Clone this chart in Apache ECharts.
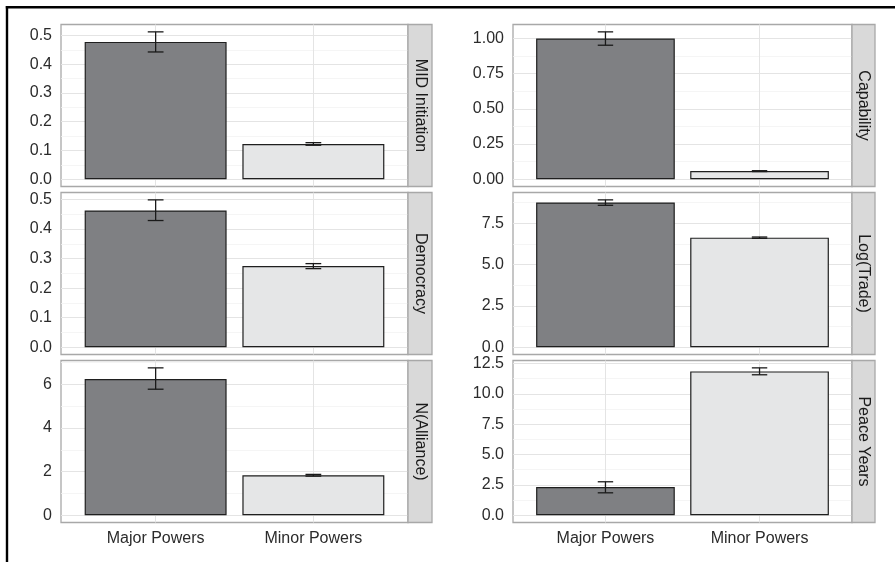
<!DOCTYPE html>
<html>
<head>
<meta charset="utf-8">
<script src="https://cdn.jsdelivr.net/npm/echarts@6/dist/echarts.min.js"></script>
<style>
  html, body { margin: 0; padding: 0; background: #ffffff; }
  #chart { width: 895px; height: 562px; }
</style>
</head>
<body>
<div id="chart"></div>
<script>
// Groups shown on every panel
const categories = ['Major Powers', 'Minor Powers'];
const panelNames = ['MID Initiation', 'Capability', 'Democracy', 'Log(Trade)', 'N(Alliance)', 'Peace Years'];

// Group means with lower / upper error-bar limits: [Major, Minor]
const midMean = [0.478, 0.1226];
const midLow = [0.443, 0.118];
const midHigh = [0.513, 0.127];

const capMean = [1.00, 0.057];
const capLow = [0.952, 0.054];
const capHigh = [1.047, 0.060];

const demMean = [0.463, 0.275];
const demLow = [0.429, 0.266];
const demHigh = [0.499, 0.283];

const tradeMean = [8.76, 6.63];
const tradeLow = [8.59, 6.59];
const tradeHigh = [8.92, 6.67];

const allyMean = [6.25, 1.83];
const allyLow = [5.78, 1.79];
const allyHigh = [6.76, 1.87];

const peaceMean = [2.31, 11.85];
const peaceLow = [1.84, 11.57];
const peaceHigh = [2.75, 12.14];

// Y tick values and their labels per panel
const midTicks = [0, 0.1, 0.2, 0.3, 0.4, 0.5];
const midTickLabels = ['0.0', '0.1', '0.2', '0.3', '0.4', '0.5'];
const capTicks = [0, 0.25, 0.5, 0.75, 1.0];
const capTickLabels = ['0.00', '0.25', '0.50', '0.75', '1.00'];
const demTicks = [0, 0.1, 0.2, 0.3, 0.4, 0.5];
const demTickLabels = ['0.0', '0.1', '0.2', '0.3', '0.4', '0.5'];
const tradeTicks = [0, 2.5, 5, 7.5];
const tradeTickLabels = ['0.0', '2.5', '5.0', '7.5'];
const allyTicks = [0, 2, 4, 6];
const allyTickLabels = ['0', '2', '4', '6'];
const peaceTicks = [0, 2.5, 5, 7.5, 10, 12.5];
const peaceTickLabels = ['0.0', '2.5', '5.0', '7.5', '10.0', '12.5'];

const panels = [
  { name: panelNames[0], mean: midMean, low: midLow, high: midHigh, ticks: midTicks, labels: midTickLabels },
  { name: panelNames[1], mean: capMean, low: capLow, high: capHigh, ticks: capTicks, labels: capTickLabels },
  { name: panelNames[2], mean: demMean, low: demLow, high: demHigh, ticks: demTicks, labels: demTickLabels },
  { name: panelNames[3], mean: tradeMean, low: tradeLow, high: tradeHigh, ticks: tradeTicks, labels: tradeTickLabels },
  { name: panelNames[4], mean: allyMean, low: allyLow, high: allyHigh, ticks: allyTicks, labels: allyTickLabels },
  { name: panelNames[5], mean: peaceMean, low: peaceLow, high: peaceHigh, ticks: peaceTicks, labels: peaceTickLabels }
];

// Layout and styling
const FONT_FAMILY = '"Liberation Sans", Arial, sans-serif';
const FONT_SIZE = 16;
const TEXT_COLOR = '#2b2b2b';
const colLeft = [61, 513];
const colWidth = [347, 339];
const stripWidth = [24, 23];
const rowTop = [24.5, 192.5, 360.5];
const rowHeight = 162;
const barFill = ['#7f8083', '#e5e6e7'];
const panelBorder = '#a8a8a8';
const majorGrid = '#e4e4e4';
const minorGrid = '#f2f2f2';

const grids = [], xAxes = [], yAxes = [], series = [], graphics = [];

panels.forEach((p, i) => {
  const col = i % 2;
  const row = Math.floor(i / 2);
  const top = Math.max.apply(null, p.high);
  const yMin = -0.05 * top;
  const yMax = 1.05 * top;

  // minor grid lines half way between the labelled ones
  const step = p.ticks[1] - p.ticks[0];
  const minors = [];
  for (let k = 0; k < p.ticks.length; k++) {
    const m = p.ticks[k] + step / 2;
    if (m < yMax) minors.push(m);
  }

  grids.push({
    left: colLeft[col], top: rowTop[row], width: colWidth[col], height: rowHeight,
    show: true, backgroundColor: '#ffffff', borderColor: panelBorder, borderWidth: 1.3
  });

  xAxes.push({
    type: 'value', gridIndex: i, min: 0.4, max: 2.6,
    axisLine: { show: false },
    axisTick: { show: false, customValues: [1, 2] },
    axisLabel: {
      show: row === 2, customValues: [1, 2], margin: 8,
      color: TEXT_COLOR, fontSize: FONT_SIZE, fontFamily: FONT_FAMILY,
      formatter: v => categories[Math.round(v) - 1]
    },
    splitLine: { show: true, lineStyle: { color: majorGrid, width: 1 } }
  });

  const fmt = v => {
    for (let k = 0; k < p.ticks.length; k++) {
      if (Math.abs(p.ticks[k] - v) < 1e-9) return p.labels[k];
    }
    return '';
  };

  yAxes.push({
    type: 'value', gridIndex: i, min: yMin, max: yMax,
    axisLine: { show: false },
    axisTick: { show: false, customValues: p.ticks },
    axisLabel: {
      customValues: p.ticks, formatter: fmt, margin: 9,
      color: TEXT_COLOR, fontSize: FONT_SIZE, fontFamily: FONT_FAMILY
    },
    splitLine: { show: true, lineStyle: { color: majorGrid, width: 1 } }
  });
  yAxes.push({
    type: 'value', gridIndex: i, min: yMin, max: yMax, position: 'left',
    axisLine: { show: false },
    axisTick: { show: false, customValues: minors },
    axisLabel: { show: false, customValues: minors },
    splitLine: { show: true, lineStyle: { color: minorGrid, width: 0.8 } }
  });

  series.push({
    type: 'bar', xAxisIndex: i, yAxisIndex: 2 * i, barWidth: '90%', z: 3,
    itemStyle: { borderColor: '#1f1f1f', borderWidth: 1.2 },
    data: categories.map((c, k) => ({ value: [k + 1, p.mean[k]], itemStyle: { color: barFill[k] } })),
    animation: false
  });

  series.push({
    type: 'custom', xAxisIndex: i, yAxisIndex: 2 * i, z: 4,
    encode: { x: 0, y: [1, 2] },
    data: categories.map((c, k) => [k + 1, p.low[k], p.high[k]]),
    renderItem: (params, api) => {
      const x = api.value(0);
      const lo = api.coord([x, api.value(1)]);
      const hi = api.coord([x, api.value(2)]);
      const half = api.size([0.1, 0])[0] / 2;
      const style = { stroke: '#1a1a1a', lineWidth: 1.3, fill: null };
      return {
        type: 'group',
        children: [
          { type: 'line', shape: { x1: lo[0], y1: lo[1], x2: hi[0], y2: hi[1] }, style },
          { type: 'line', shape: { x1: hi[0] - half, y1: hi[1], x2: hi[0] + half, y2: hi[1] }, style },
          { type: 'line', shape: { x1: lo[0] - half, y1: lo[1], x2: lo[0] + half, y2: lo[1] }, style }
        ]
      };
    },
    animation: false
  });

  // facet strip on the right of the panel
  const sx = colLeft[col] + colWidth[col];
  graphics.push({
    type: 'rect', z: 10,
    shape: { x: sx, y: rowTop[row], width: stripWidth[col], height: rowHeight },
    style: { fill: '#d9d9d9', stroke: panelBorder, lineWidth: 1.3 }
  });
  graphics.push({
    type: 'text', z: 11,
    x: sx + stripWidth[col] / 2, y: rowTop[row] + rowHeight / 2,
    rotation: -Math.PI / 2,
    style: {
      text: p.name, fill: '#1a1a1a', align: 'center', verticalAlign: 'middle',
      font: FONT_SIZE + 'px ' + FONT_FAMILY
    }
  });
});

// outer frame lines along the top and left edges
graphics.push({ type: 'line', z: 12, shape: { x1: 5.8, y1: 7.2, x2: 895, y2: 7.2 }, style: { stroke: '#000000', lineWidth: 2.4 } });
graphics.push({ type: 'line', z: 12, shape: { x1: 7, y1: 6, x2: 7, y2: 562 }, style: { stroke: '#000000', lineWidth: 2.4 } });

const chart = echarts.init(document.getElementById('chart'), null, { renderer: 'canvas' });
chart.setOption({
  backgroundColor: '#ffffff',
  animation: false,
  grid: grids,
  xAxis: xAxes,
  yAxis: yAxes,
  series: series,
  graphic: graphics
});
</script>
</body>
</html>
